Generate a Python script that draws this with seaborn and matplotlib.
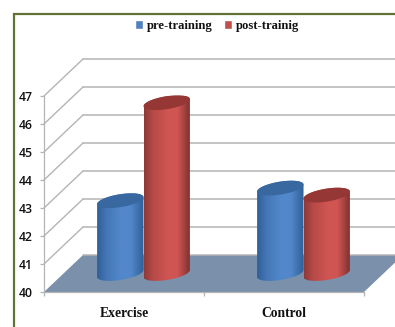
import matplotlib
matplotlib.use("Agg")
import matplotlib.pyplot as plt
import numpy as np
import pandas as pd
import seaborn as sns
from matplotlib.lines import Line2D
from matplotlib.patches import PathPatch, Polygon, Rectangle
from matplotlib.path import Path
from matplotlib.transforms import Affine2D, IdentityTransform

categories = ["Exercise", "Control"]
series_names = ["pre-training", "post-trainig"]
pre_training = [42.6, 43.05]
post_training = [46.1, 42.8]
value_ticks = [40, 41, 42, 43, 44, 45, 46, 47]

BLUE, RED = "#4f81bd", "#c0504d"
# edge, body, highlight, right edge, lid
shades = {BLUE: ("#2f6098", "#4375b2", "#5288cb", "#2f6098", "#38689f"),
          RED: ("#8f3a38", "#b54a47", "#cf5552", "#7a302e", "#953735")}
GRID = "#b4b4b4"
W, H, DPI = 395, 327, 100

sns.set_theme(style="white")
fig = plt.figure(figsize=(W / DPI, H / DPI), dpi=DPI)
ax = fig.add_axes([44 / W, 35 / H, 320 / W, 196 / H], facecolor="none")

df = pd.DataFrame({
    "group": categories * 2,
    "value": pre_training + post_training,
    "series": [series_names[0]] * 2 + [series_names[1]] * 2,
})
sns.barplot(data=df, x="group", y="value", hue="series", palette=[BLUE, RED],
            width=0.58, gap=0, saturation=1, ax=ax, legend=False)
ax.set_xlim(-0.5, 1.5)
ax.set_ylim(40, 47)
ax.set_xlabel("")
ax.set_ylabel("")

# Depth of the box, in pixels
depth_x, depth_y = 39, 37
back = ax.transData + Affine2D().translate(depth_x, depth_y)

# Floor of the box
floor = Polygon([(-0.5, 40), (1.5, 40), (1.5 + depth_x / 160, 40 + depth_y / 28),
                 (-0.5 + depth_x / 160, 40 + depth_y / 28)],
                closed=True, transform=ax.transData, clip_on=False,
                facecolor="#7b90aa", edgecolor="none", zorder=1)
ax.add_patch(floor)

# Wall gridlines and their diagonal returns
for v in value_ticks:
    ax.add_line(Line2D([-0.5, 1.5 + 0.3], [v, v], transform=back, color=GRID, lw=1.1,
                       clip_on=False, zorder=1.5 if v == 40 else 0.5))
    if v > 40:
        x0, y0 = ax.transData.transform((-0.5, v))
        ax.add_line(Line2D([x0, x0 + depth_x], [y0, y0 + depth_y], transform=IdentityTransform(),
                           color=GRID, lw=1.0, clip_on=False, zorder=0.5))


def cylinder(bar, order):
    """Redraw a flat bar as a tilted, shaded cylinder standing mid-way on the floor."""
    color = matplotlib.colors.to_hex(bar.get_facecolor())
    left_edge, body_col, high, right_edge, lid = shades[color]
    top_value = bar.get_height()
    left = bar.get_x()
    right = left + bar.get_width()
    bar.set_visible(False)
    (xa, yb), (xc, yt) = ax.transData.transform([(left, 40), (right, top_value)])
    dx, dy = depth_x / 2, depth_y / 2
    xa, xc, yb, yt = xa + dx, xc + dx, yb + dy, yt + dy
    cx, a = (xa + xc) / 2, (xc - xa) / 2
    b, tilt = 6.5, 3.5
    t = np.linspace(np.pi, 2 * np.pi, 40)
    lower = np.c_[cx + a * np.cos(t), yb + b * np.sin(t) + tilt * np.cos(t)]
    t2 = np.linspace(0, 2 * np.pi, 80)
    lid_pts = np.c_[cx + a * np.cos(t2), yt + b * np.sin(t2) + tilt * np.cos(t2)]
    upper = lid_pts[:40]
    body = Path(np.vstack([lower, upper, lower[:1]]), closed=False)
    body_patch = PathPatch(body, transform=IdentityTransform(), fc="none", ec="none")
    ax.add_patch(body_patch)

    xs = np.linspace(0, 1, 64)
    rgb = [matplotlib.colors.to_rgb(c) for c in (left_edge, body_col, high, high, right_edge)]
    ramp = np.stack([np.interp(xs, [0, 0.18, 0.5, 0.72, 1], [c[i] for c in rgb]) for i in range(3)],
                    axis=-1)
    im = ax.imshow(ramp[None, :, :], extent=(xa, xc, yb - 12, yt + 12),
                   transform=IdentityTransform(), aspect="auto", zorder=order,
                   interpolation="bilinear")
    im.set_clip_path(body_patch)
    ax.add_patch(Polygon(lid_pts, closed=True, transform=IdentityTransform(), fc=lid, ec="none",
                         zorder=order + 0.1, clip_on=False))


hue_bars = [b for b in ax.patches[:] if isinstance(b, Rectangle) and b.get_height() > 0]
hue_bars.sort(key=lambda b: b.get_x())
for i, bar in enumerate(hue_bars):
    cylinder(bar, 3 + i * 0.3)
ax.set_xlim(-0.5, 1.5)
ax.set_ylim(40, 47)

# Axes, ticks and labels
sns.despine(ax=ax, top=True, right=True)
for side in ("left", "bottom"):
    ax.spines[side].set_color(GRID)
    ax.spines[side].set_linewidth(0.9)
ax.set_yticks(value_ticks)
ax.set_xticks([-0.5, 0.5, 1.5], minor=True)
ax.tick_params(axis="x", which="major", length=0, pad=11)
ax.tick_params(axis="x", which="minor", length=3, color=GRID, width=0.9, bottom=True)
ax.tick_params(axis="y", length=3, color=GRID, width=0.9, left=True, pad=5)
for label in ax.get_yticklabels():
    label.set(fontfamily="Open Sans", fontweight="semibold", fontsize=8.8, color="#111111")
for label in ax.get_xticklabels():
    label.set(fontfamily="Liberation Serif", fontweight="bold", fontsize=9.8, color="#111111")

# Legend
legend_handles = [Rectangle((0, 0), 1, 1, fc=BLUE), Rectangle((0, 0), 1, 1, fc=RED)]
fig.legend(legend_handles, series_names, loc="center", bbox_to_anchor=(217 / W, 1 - 26 / H),
           ncol=2, frameon=False, handlelength=0.65, handleheight=0.75, handletextpad=0.3,
           columnspacing=0.9, prop={"family": "Liberation Serif", "weight": "bold", "size": 9.1},
           labelcolor="#111111")

# Chart border
fig.add_artist(Rectangle((13.5 / W, -0.1), 1, 1 - 13.5 / H + 0.1, transform=fig.transFigure,
                         fc="none", ec="#5f7434", lw=1.6))

fig.savefig("out.png", dpi=DPI)
